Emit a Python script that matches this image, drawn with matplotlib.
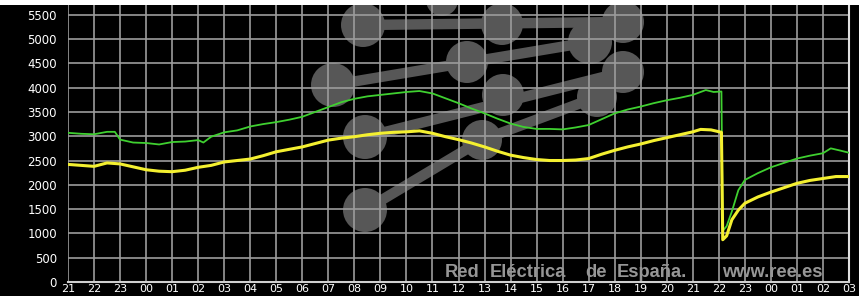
import matplotlib
matplotlib.use("Agg")
import matplotlib.pyplot as plt
from matplotlib.patches import Circle, Rectangle
from matplotlib.lines import Line2D
from matplotlib.transforms import IdentityTransform

# Hours elapsed since 21:00 of the first day
hour_labels = ["21", "22", "23", "00", "01", "02", "03", "04", "05", "06", "07",
               "08", "09", "10", "11", "12", "13", "14", "15", "16", "17", "18",
               "19", "20", "21", "22", "23", "00", "01", "02", "03"]

green_h = [0, 0.5, 1, 1.5, 1.8, 2, 2.5, 3, 3.5, 4, 4.5, 5, 5.2, 5.5, 6, 6.5, 7,
           7.5, 8, 8.5, 9, 9.5, 10, 10.5, 11, 11.5, 12, 12.5, 13, 13.5, 14,
           14.5, 15, 15.5, 16, 16.5, 17, 17.5, 18, 18.5, 19, 19.5, 20, 20.5,
           21, 21.5, 22, 22.5, 23, 23.5, 24, 24.5, 24.8, 25.1, 25.15, 25.3,
           25.5, 25.75, 26, 26.5, 27, 27.5, 28, 28.5, 29, 29.3, 29.7, 30]
green_v = [3070, 3050, 3040, 3090, 3090, 2930, 2870, 2860, 2830, 2880, 2890,
           2920, 2870, 2990, 3080, 3120, 3200, 3250, 3290, 3340, 3400, 3500,
           3600, 3700, 3770, 3820, 3850, 3880, 3910, 3930, 3880, 3780, 3680,
           3570, 3470, 3360, 3260, 3190, 3150, 3150, 3140, 3180, 3230, 3350,
           3470, 3550, 3610, 3680, 3740, 3790, 3850, 3950, 3910, 3920, 1050,
           1150, 1450, 1890, 2100, 2240, 2360, 2450, 2540, 2600, 2650, 2750,
           2700, 2660]

yellow_h = [0, 0.5, 1, 1.5, 2, 2.5, 3, 3.5, 4, 4.5, 5, 5.5, 6, 6.5, 7, 7.5, 8,
            8.5, 9, 9.5, 10, 10.5, 11, 11.5, 12, 12.5, 13, 13.5, 14, 14.5, 15,
            15.5, 16, 16.5, 17, 17.5, 18, 18.5, 19, 19.5, 20, 20.5, 21, 21.5,
            22, 22.5, 23, 23.5, 24, 24.3, 24.7, 25.1, 25.15, 25.3, 25.5, 25.75,
            26, 26.5, 27, 27.5, 28, 28.5, 29, 29.5, 30]
yellow_v = [2420, 2400, 2380, 2450, 2430, 2370, 2310, 2280, 2270, 2300, 2360,
            2400, 2470, 2500, 2530, 2600, 2680, 2730, 2780, 2850, 2920, 2960,
            2990, 3030, 3060, 3080, 3090, 3110, 3060, 2990, 2930, 2860, 2780,
            2690, 2610, 2560, 2520, 2500, 2500, 2510, 2540, 2630, 2710, 2780,
            2840, 2910, 2970, 3030, 3090, 3140, 3130, 3080, 870, 950, 1280,
            1480, 1620, 1750, 1850, 1940, 2030, 2090, 2130, 2170, 2170]

y_ticks = [0, 500, 1000, 1500, 2000, 2500, 3000, 3500, 4000, 4500, 5000, 5500]

W, H = 859, 296
fig = plt.figure(figsize=(W / 100, H / 100), dpi=100, facecolor="black")
ax = fig.add_axes([68 / W, (H - 282) / H, (849 - 68) / W, (282 - 5) / H])
ax.set_facecolor("black")
fig.patches.append(Rectangle((0, (H - 5) / H), 1, 5 / H, transform=fig.transFigure,
                             facecolor="white", edgecolor="none", zorder=5))

ax.set_xlim(0, 30)
ax.set_ylim(0, 5700)

# grid
grid_c = "#9c9c9c"
for i in range(len(hour_labels)):
    ax.axvline(i, color=grid_c, lw=1.2, zorder=1)
for v in y_ticks:
    ax.axhline(v, color=grid_c, lw=1.2, zorder=1)

# logo watermark (pixel coordinates)
def P(x, y):
    return (x, H - y)

logo_c = "#575757"
bars = [((363, 25), (623, 22)), ((333, 85), (590, 42)), ((365, 137), (623, 72)),
        ((365, 210), (482, 140)), ((482, 140), (597, 97))]
for (a, b) in bars:
    ln = Line2D([a[0], b[0]], [H - a[1], H - b[1]], color=logo_c, lw=7.5,
                transform=IdentityTransform(), zorder=0.6, solid_capstyle="butt")
    ax.add_line(ln)
circles = [(363, 25, 22), (502, 24, 21), (623, 22, 21), (442, 0, 16),
           (333, 85, 22), (467, 62, 21), (590, 42, 22), (503, 95, 21),
           (623, 72, 21), (597, 97, 20), (365, 137, 22), (482, 140, 20),
           (365, 210, 22)]
for (cx, cy, r) in circles:
    ax.add_patch(Circle(P(cx, cy), r, facecolor=logo_c, edgecolor="none",
                        transform=IdentityTransform(), zorder=0.6))

ax.plot(green_h, green_v, color="#3fd030", lw=1.3, zorder=3)
ax.plot(yellow_h, yellow_v, color="#f4f030", lw=2.2, zorder=4)

# watermark text, words placed to match the reference spacing
wm_words = [("Red", 445), ("Eléctrica", 490), ("de", 585), ("España.", 617),
            ("www.ree.es", 722)]
for word, xpx in wm_words:
    ax.text(xpx, H - 277, word, transform=IdentityTransform(),
            color="#969696", fontsize=13.2, fontweight="bold",
            family="Liberation Sans", ha="left", va="baseline", zorder=2)

ax.set_xticks(range(len(hour_labels)))
ax.set_xticklabels(hour_labels)
ax.set_yticks(y_ticks)
ax.set_yticklabels([str(v) for v in y_ticks])
ax.tick_params(axis="both", length=0, colors="white")
ax.tick_params(axis="y", pad=8, labelsize=8.5)
ax.tick_params(axis="x", pad=1.5, labelsize=8)
for s in ["top", "left"]:
    ax.spines[s].set_visible(False)
ax.spines["bottom"].set_color("#d0d0d0")
ax.spines["bottom"].set_linewidth(1.5)
ax.spines["right"].set_color("#e0e0e0")
ax.spines["right"].set_linewidth(1.5)

fig.savefig("out.png", dpi=100, facecolor="black")
